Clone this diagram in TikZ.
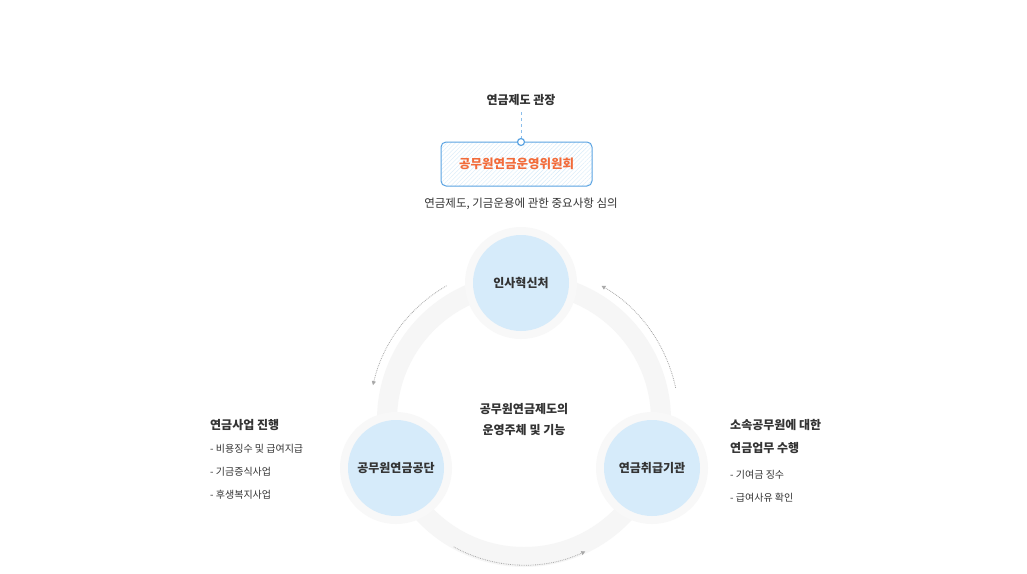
\documentclass[tikz,border=0pt]{standalone}
\usepackage{fontspec}
\setmainfont{Noto Sans CJK KR}
\usetikzlibrary{arrows.meta,patterns.meta}
\definecolor{cfill}{HTML}{D6EBFA}
\definecolor{ring}{HTML}{F6F6F6}
\definecolor{halo}{HTML}{F8F8F8}
\definecolor{bblue}{HTML}{5AA3E2}
\definecolor{orng}{HTML}{F26B3A}
\definecolor{txt}{HTML}{333333}
\definecolor{dgray}{HTML}{A8A8A8}
\tikzset{
  ent/.style={circle,fill=cfill,minimum size=96pt,inner sep=0pt,font=\fontsize{12}{14}\selectfont\bfseries,text=txt},
  lbl/.style={font=\fontsize{11.5}{13}\selectfont,text=txt,inner sep=0pt},
  blbl/.style={font=\fontsize{12}{14}\selectfont\bfseries,text=txt,inner sep=0pt,anchor=west},
  slbl/.style={font=\fontsize{10}{12}\selectfont,text=txt,inner sep=0pt,anchor=west},
  flow/.style={dgray,densely dotted,line width=0.8pt,-{Triangle[length=4pt,width=4pt]}}
}
\begin{document}
\begin{tikzpicture}[x=1pt,y=-1pt]
\useasboundingbox (0,0) rectangle (1027,573);
\fill[white] (0,0) rectangle (1027,573);
% big ring
\draw[ring,line width=20pt] (524,420) circle (137);
% halos
\foreach \p in {(521,283),(396,468),(652,468)} \fill[halo] \p circle (56);
\node[ent] (a) at (521,283) {인사혁신처};
\node[ent] (b) at (396,468) {공무원연금공단};
\node[ent] (c) at (652,468) {연금취급기관};
% dashed flow arcs (y flipped, so angles negated)
\draw[flow] (524,420) ++(-120:155) arc[start angle=-120,end angle=-167,radius=155];
\draw[flow] (524,420) ++(-12:155) arc[start angle=-12,end angle=-60,radius=155];
\draw[flow] (524,420) ++(-241:145) arc[start angle=-241,end angle=-295,radius=145];
% center text
\node[font=\fontsize{12}{21}\selectfont\bfseries,text=txt,align=center] (ctr) at (524,419) {공무원연금제도의\\운영주체 및 기능};
% top
\node[lbl,font=\fontsize{12}{14}\selectfont\bfseries] (t) at (521,100) {연금제도 관장};
\node[draw=bblue,line width=1pt,rounded corners=5pt,minimum width=151pt,minimum height=44pt,
  pattern={Lines[angle=45,distance=3pt,line width=0.4pt]},pattern color=cfill,
  font=\fontsize{12.5}{14}\selectfont\bfseries,text=orng] (box) at (516.5,164) {공무원연금운영위원회};
\coordinate (top) at (521,112);
\node[circle,draw=bblue,fill=white,line width=1.2pt,minimum size=7pt,inner sep=0pt] (dot) at (521,142) {};
\draw[bblue!70,dashed,line width=0.8pt] (top) -- (dot);
\node[lbl] (sub) at (521,204) {연금제도, 기금운용에 관한 중요사항 심의};
% left text
\node[blbl] (l0) at (210,425) {연금사업 진행};
\node[slbl] (l1) at (210,449) {- 비용징수 및 급여지급};
\node[slbl] (l2) at (210,472) {- 기금증식사업};
\node[slbl] (l3) at (210,495) {- 후생복지사업};
% right text
\node[blbl] (r0) at (730,425) {소속공무원에 대한};
\node[blbl] (r1) at (730,448) {연금업무 수행};
\node[slbl] (r2) at (730,475) {- 기여금 징수};
\node[slbl] (r3) at (730,498) {- 급여사유 확인};
\end{tikzpicture}
\end{document}
